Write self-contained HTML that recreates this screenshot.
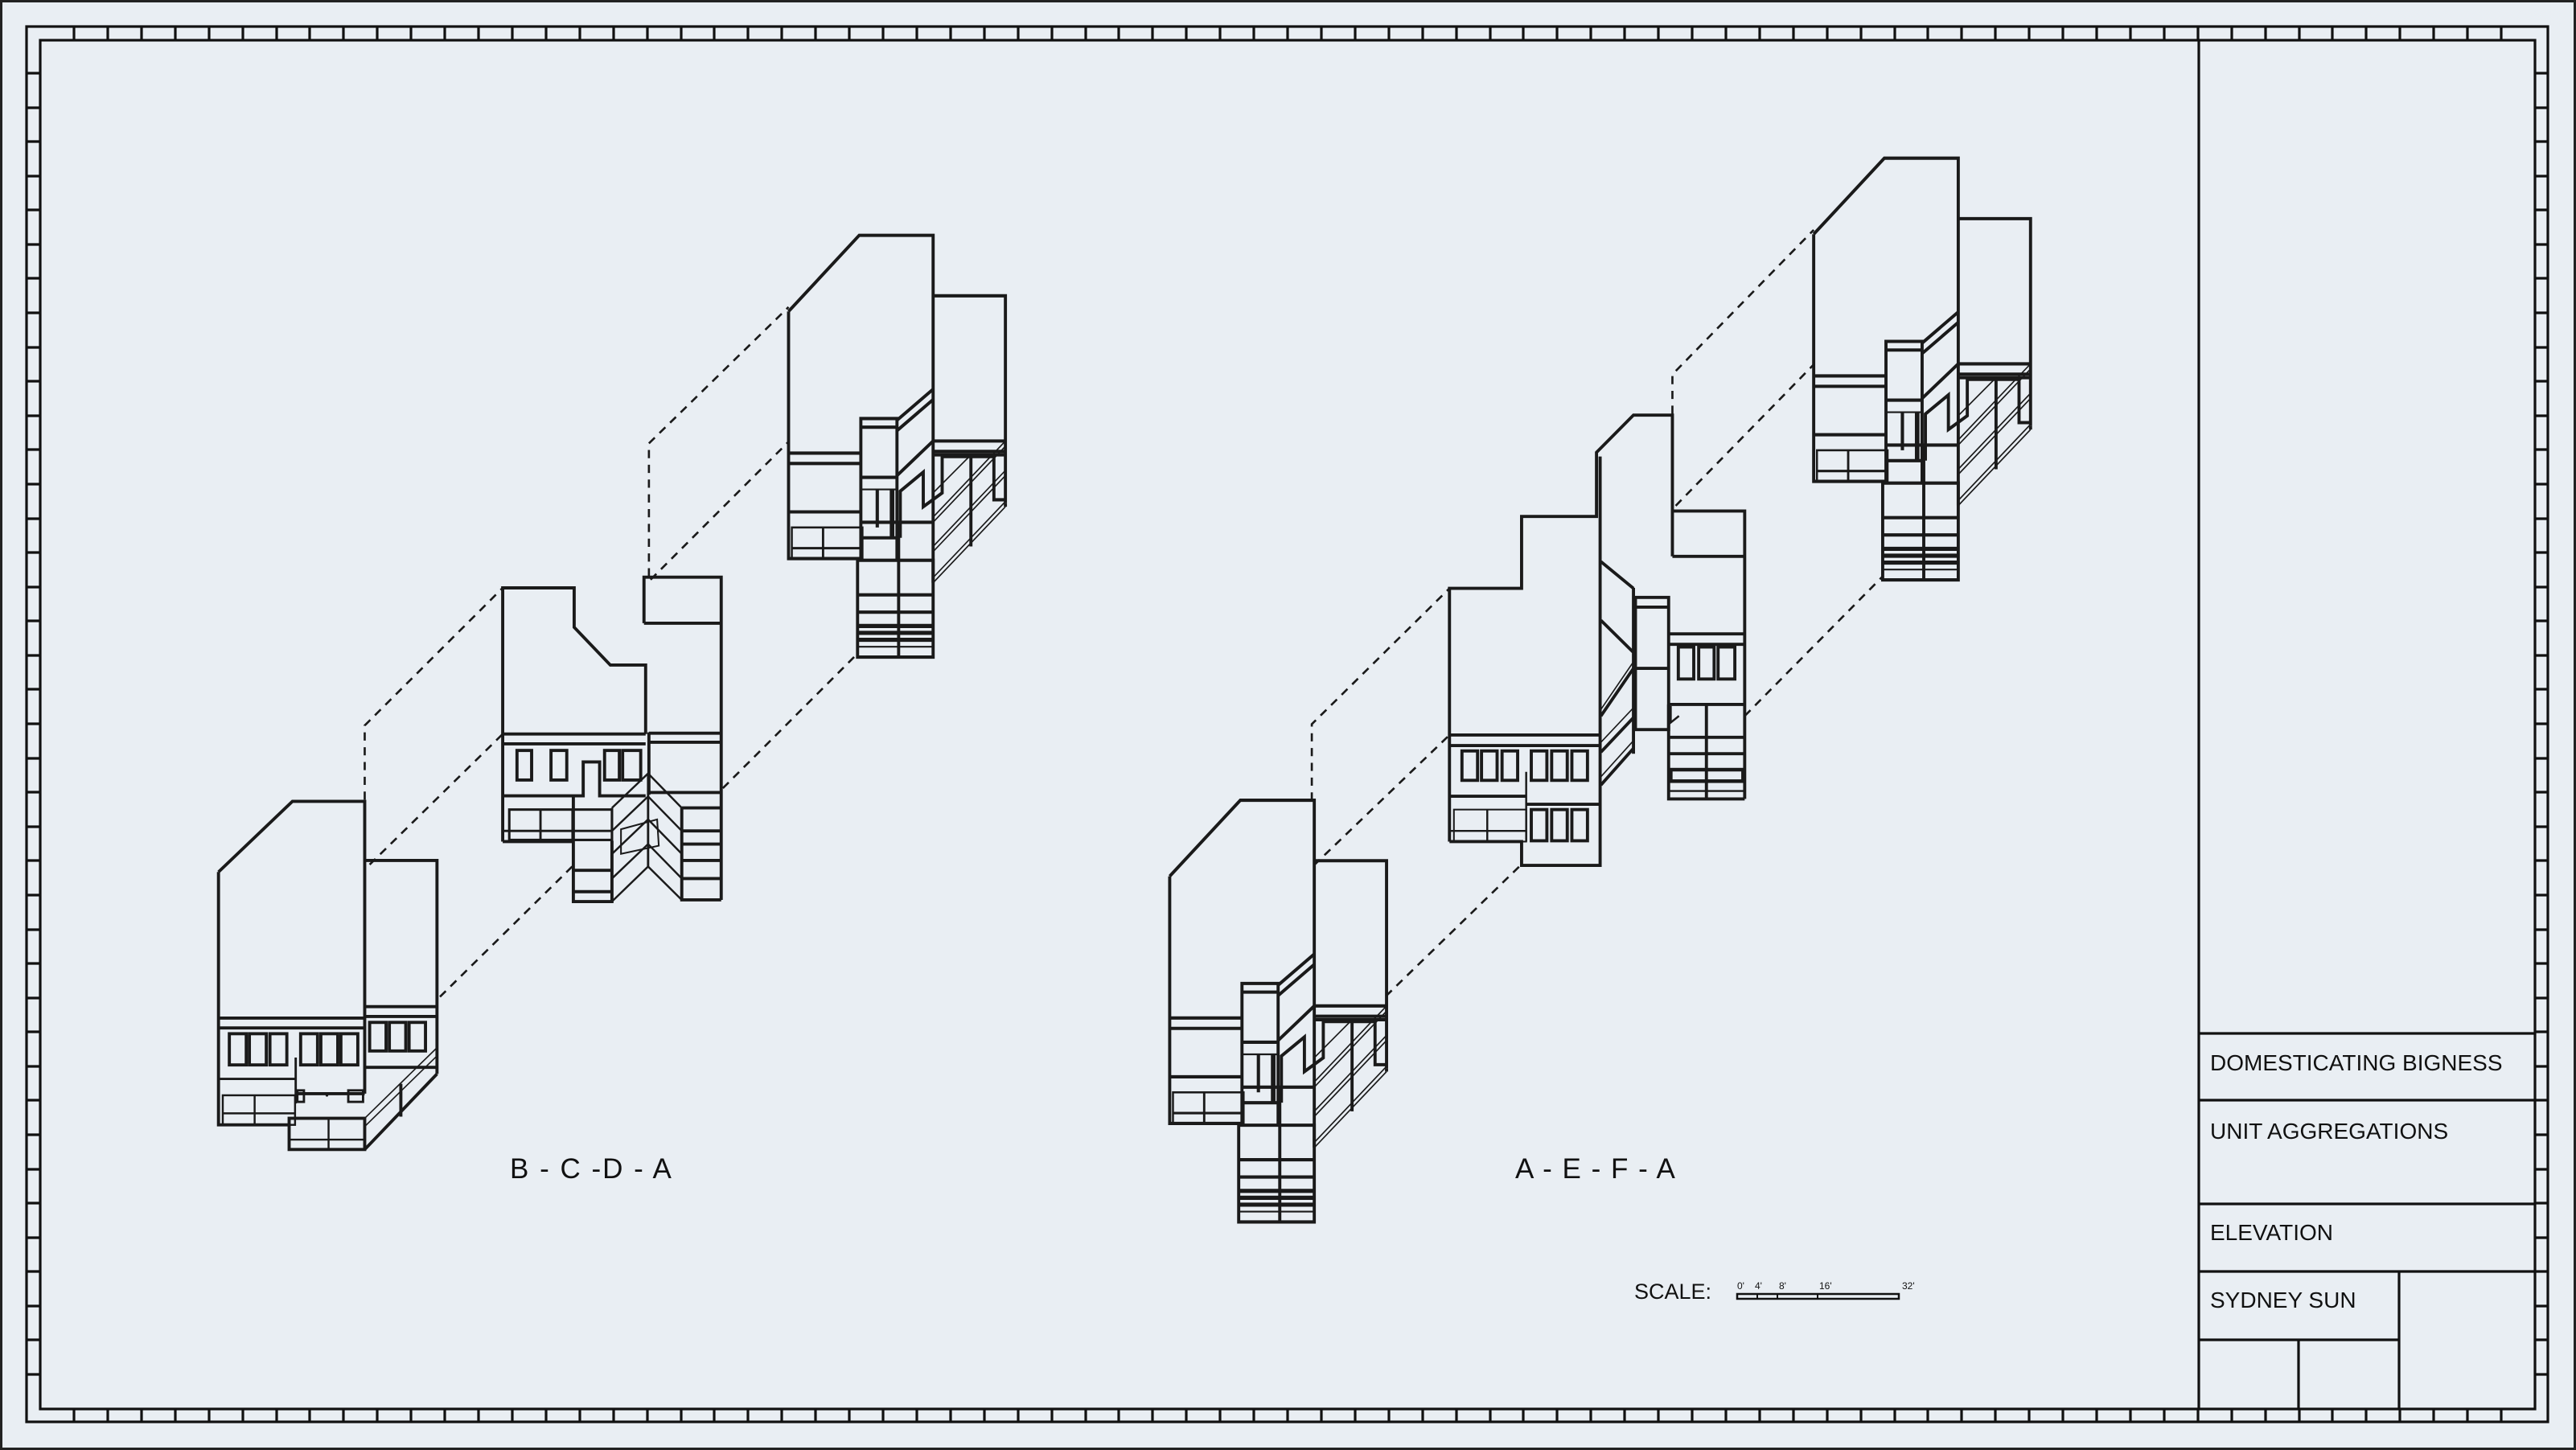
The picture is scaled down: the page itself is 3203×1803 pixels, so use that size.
<!DOCTYPE html>
<html><head><meta charset="utf-8"><style>
html,body{margin:0;padding:0;background:#e9eef3;}
svg{display:block;}
text{font-family:"Liberation Sans",sans-serif;fill:#111;}
</style></head><body>
<svg width="3203" height="1803" viewBox="0 0 3203 1803" xmlns="http://www.w3.org/2000/svg">
<rect x="1.5" y="1.5" width="3200" height="1800" fill="#e9eef3" stroke="#222" stroke-width="3"/>
<g fill="none" stroke="#111" stroke-width="3.2">
<rect x="33" y="33" width="3135" height="1735"/>
<rect x="50" y="50" width="3102" height="1702"/>
<line x1="2734" y1="50" x2="2734" y2="1752"/>
<line x1="2734" y1="1285" x2="3152" y2="1285"/>
<line x1="2734" y1="1368" x2="3152" y2="1368"/>
<line x1="2734" y1="1497" x2="3152" y2="1497"/>
<line x1="2734" y1="1581" x2="3152" y2="1581"/>
<line x1="2734" y1="1666" x2="2983" y2="1666"/>
<line x1="2983" y1="1581" x2="2983" y2="1752"/>
<line x1="2858" y1="1666" x2="2858" y2="1752"/>
<path d="
M92,33V50 M134,33V50 M176,33V50 M218,33V50 M260,33V50 M302,33V50 M344,33V50 M385,33V50 M427,33V50 M469,33V50 M511,33V50 M553,33V50 M595,33V50 M637,33V50 M679,33V50 M721,33V50 M763,33V50 M805,33V50 M847,33V50 M888,33V50 M930,33V50 M972,33V50 M1014,33V50 M1056,33V50 M1098,33V50 M1140,33V50 M1182,33V50 M1224,33V50 M1266,33V50 M1308,33V50 M1350,33V50 M1391,33V50 M1433,33V50 M1475,33V50 M1517,33V50 M1559,33V50 M1601,33V50 M1643,33V50 M1685,33V50 M1727,33V50 M1769,33V50 M1811,33V50 M1853,33V50 M1894,33V50 M1936,33V50 M1978,33V50 M2020,33V50 M2062,33V50 M2104,33V50 M2146,33V50 M2188,33V50 M2230,33V50 M2272,33V50 M2314,33V50 M2356,33V50 M2397,33V50 M2439,33V50 M2481,33V50 M2523,33V50 M2565,33V50 M2607,33V50 M2649,33V50 M2691,33V50 M2733,33V50 M2775,33V50 M2817,33V50 M2859,33V50 M2900,33V50 M2942,33V50 M2984,33V50 M3026,33V50 M3068,33V50 M3110,33V50
M92,1752V1768 M134,1752V1768 M176,1752V1768 M218,1752V1768 M260,1752V1768 M302,1752V1768 M344,1752V1768 M385,1752V1768 M427,1752V1768 M469,1752V1768 M511,1752V1768 M553,1752V1768 M595,1752V1768 M637,1752V1768 M679,1752V1768 M721,1752V1768 M763,1752V1768 M805,1752V1768 M847,1752V1768 M888,1752V1768 M930,1752V1768 M972,1752V1768 M1014,1752V1768 M1056,1752V1768 M1098,1752V1768 M1140,1752V1768 M1182,1752V1768 M1224,1752V1768 M1266,1752V1768 M1308,1752V1768 M1350,1752V1768 M1391,1752V1768 M1433,1752V1768 M1475,1752V1768 M1517,1752V1768 M1559,1752V1768 M1601,1752V1768 M1643,1752V1768 M1685,1752V1768 M1727,1752V1768 M1769,1752V1768 M1811,1752V1768 M1853,1752V1768 M1894,1752V1768 M1936,1752V1768 M1978,1752V1768 M2020,1752V1768 M2062,1752V1768 M2104,1752V1768 M2146,1752V1768 M2188,1752V1768 M2230,1752V1768 M2272,1752V1768 M2314,1752V1768 M2356,1752V1768 M2397,1752V1768 M2439,1752V1768 M2481,1752V1768 M2523,1752V1768 M2565,1752V1768 M2607,1752V1768 M2649,1752V1768 M2691,1752V1768 M2733,1752V1768 M2775,1752V1768 M2817,1752V1768 M2859,1752V1768 M2900,1752V1768 M2942,1752V1768 M2984,1752V1768 M3026,1752V1768 M3068,1752V1768 M3110,1752V1768
M33,91H50 M33,134H50 M33,176H50 M33,219H50 M33,261H50 M33,304H50 M33,346H50 M33,389H50 M33,432H50 M33,474H50 M33,517H50 M33,559H50 M33,602H50 M33,645H50 M33,687H50 M33,730H50 M33,772H50 M33,815H50 M33,857H50 M33,900H50 M33,943H50 M33,985H50 M33,1028H50 M33,1070H50 M33,1113H50 M33,1156H50 M33,1198H50 M33,1241H50 M33,1283H50 M33,1326H50 M33,1368H50 M33,1411H50 M33,1454H50 M33,1496H50 M33,1539H50 M33,1581H50 M33,1624H50 M33,1666H50 M33,1709H50
M3152,91H3168 M3152,134H3168 M3152,176H3168 M3152,219H3168 M3152,261H3168 M3152,304H3168 M3152,346H3168 M3152,389H3168 M3152,432H3168 M3152,474H3168 M3152,517H3168 M3152,559H3168 M3152,602H3168 M3152,645H3168 M3152,687H3168 M3152,730H3168 M3152,772H3168 M3152,815H3168 M3152,857H3168 M3152,900H3168 M3152,943H3168 M3152,985H3168 M3152,1028H3168 M3152,1070H3168 M3152,1113H3168 M3152,1156H3168 M3152,1198H3168 M3152,1241H3168 M3152,1283H3168 M3152,1326H3168 M3152,1368H3168 M3152,1411H3168 M3152,1454H3168 M3152,1496H3168 M3152,1539H3168 M3152,1581H3168 M3152,1624H3168 M3152,1666H3168 M3152,1709H3168"/>
</g>
<text x="2748" y="1331" font-size="28">DOMESTICATING BIGNESS</text>
<text x="2748" y="1416" font-size="28">UNIT AGGREGATIONS</text>
<text x="2748" y="1542" font-size="28">ELEVATION</text>
<text x="2748" y="1626" font-size="28">SYDNEY SUN</text>
<text x="634" y="1465" font-size="35" letter-spacing="2">B - C -D - A</text>
<text x="1884" y="1465" font-size="35" letter-spacing="1.5">A - E - F - A</text>
<text x="2032" y="1615" font-size="27">SCALE:</text>
<rect x="2160" y="1609" width="201" height="6" fill="none" stroke="#111" stroke-width="2.5"/>
<path d="M2185,1609V1615 M2210,1609V1615 M2260,1609V1615" stroke="#111" stroke-width="2"/>
<g font-size="12"><text x="2160" y="1603">0'</text><text x="2182" y="1603">4'</text><text x="2212" y="1603">8'</text><text x="2262" y="1603">16'</text><text x="2365" y="1603">32'</text></g>

<g transform="scale(2.0427,2.0419)" fill="none" stroke="#1a1a1a" stroke-width="1.9" stroke-linejoin="miter">
<defs>
<g id="A"><g transform="matrix(1,0,0,1.0526,0,-7.21)">
<path d="M480,187 L523,143 L568,143 L568,344"/>
<path d="M480,187 V330 H525"/>
<path d="M480,269 H524 M480,275 H524 M480,303 H524"/>
<rect x="482" y="312" width="43" height="18" stroke-width="1.2"/>
<path d="M482,324 H525 M501,312 V330" stroke-width="1.4"/>
<path d="M568,178 H612 V298 M568,262 H612 M568,268 H612"/>
<path d="M524,331 V249 H546 V331 M524,254 H546 M524,283 H546 M524,309 H568 M524,318 H546"/>
<path d="M524,290 H546" stroke-width="1"/>
<path d="M522,331 H568 V387 H522 Z M547,309 V387 M522,351 H568 M522,361 H568"/>
<path d="M522,369 H568 M522,373 H568 M522,377 H568" stroke-width="2.4"/>
<path d="M522,381 H568" stroke-width="1"/>
<path d="M534,290 V312" stroke-width="2"/>
<path d="M543,290 V318" stroke-width="2.8"/>
<path d="M546,250 L568,232 M546,256 L568,238 M546,282 L568,262"/>
<path d="M568,344 L612,300 M568,341 L612,297 M568,326 L612,282 M568,323 L612,279 M568,309 L612,265 M568,306 L612,262 M568,292 L591,270" stroke-width="0.8"/>
<path d="M568,270 H612 M591,270 V323 M612,298 V300"/>
<path d="M548,318 V291 L562,280 V300 L573.5,292 V271 H605 V296 H612"/>
</g></g>
</defs>
<use href="#A"/>
<use href="#A" transform="translate(232,344)"/>
<use href="#A" transform="translate(624,-47)"/>

<!-- Building B -->
<path d="M133,531 L178,488 L222,488 V666"/>
<path d="M133,531 V685 H176"/>
<path d="M222,524 H266 V654"/>
<path d="M133,620 H222 M133,626 H222 M222,613 H266 M222,619 H266 M222,650 H266"/>
<g>
<rect x="139.6" y="629.5" width="10.3" height="19"/><rect x="151.8" y="629.5" width="10.3" height="19"/><rect x="164.3" y="629.5" width="10.3" height="19"/>
<rect x="183" y="629.5" width="10.3" height="19"/><rect x="195.3" y="629.5" width="10.3" height="19"/><rect x="207.5" y="629.5" width="10.3" height="19"/>
<rect x="225" y="622.6" width="10" height="17.4"/><rect x="237" y="622.6" width="10" height="17.4"/><rect x="249" y="622.6" width="10" height="17.4"/>
</g>
<path d="M133,657 H180 M180,644 V672" stroke-width="1.4"/>
<rect x="135.6" y="667" width="44" height="18" stroke-width="1.2"/>
<path d="M135.6,678 H179.6 M155,667 V685" stroke-width="1.2"/>
<path d="M180,666 H222"/>
<rect x="181" y="664" width="4" height="7" stroke-width="1.4"/><rect x="212" y="664" width="9" height="7" stroke-width="1.4"/>
<rect x="176" y="681" width="46" height="19"/>
<path d="M200,681 V700 M176,694 H222" stroke-width="1.2"/>
<path d="M222,700 L266,654 M244,660 V680"/>
<path d="M222,681 L266,638 M222,686 L266,643" stroke-width="0.8"/>
<circle cx="199" cy="667" r="0.8" fill="#1a1a1a" stroke="none"/>

<!-- Building C -->
<path d="M306,512.5 V358 H349.5 V382 L371.5,405 H393 V447"/>
<path d="M392,379.5 V351.5 H439 V548 M392,379.5 H439"/>
<path d="M306,447 H393 M306,453 H393 M395,446.5 H439 M395,452 H439 M395,446 V484"/>
<rect x="314.7" y="457" width="8.9" height="18"/><rect x="335.4" y="457" width="9.6" height="18"/>
<rect x="368" y="457" width="9" height="18"/><rect x="379" y="457" width="11" height="18"/>
<path d="M306,484.6 H355 V464 H365 V484.6 H393"/>
<path d="M395,482.6 H439"/>
<rect x="310" y="493" width="62.5" height="18.5" stroke-width="1.5"/>
<path d="M329,493 V511.5 M348.5,493 V511.5 M306,506 H372.5" stroke-width="1.4"/>
<path d="M306,512.5 H349"/>
<path d="M349,484.6 V549 H372.5 V512 M349,530 H372.5 M349,543 H372.5"/>
<path d="M372.5,549 L394.5,527.7 L415,548 M372.5,492 L394.5,471 L415,492 M372.5,506 L394.5,485 L415,506 M372.5,520 L394.5,499 L415,520 M372.5,535 L394.5,514 L415,535" stroke-width="1.2"/>
<path d="M394.5,471 V527.7 M372.5,492 V549" stroke-width="1.4"/>
<path d="M415,492 H439 M415,492 V548 H439 M415,506 H439 M415,514 H439 M415,524 H439 M415,535 H439"/>
<path d="M378,505 L400,499 L401,515 L378,520 Z" stroke-width="1"/>

<!-- Building E -->
<path d="M882.3,512.5 V358.3 H926.2 V314.5 H971.8 V275.5 L994.3,252.8 H1018 V338.8"/>
<path d="M974,278 V527 H926.2 V512.5 H882.3"/>
<path d="M882.3,447.6 H974 M882.3,454 H974 M882.3,484.9 H929 M929,489.8 H974"/>
<g>
<rect x="889.9" y="457.3" width="9.5" height="17.9"/><rect x="901.8" y="457.3" width="9.5" height="17.9"/><rect x="914.3" y="457.3" width="9.5" height="17.9"/>
<rect x="932.1" y="457.3" width="9.5" height="17.9"/><rect x="944.5" y="457.3" width="9.5" height="17.9"/><rect x="956.8" y="457.3" width="9.5" height="17.9"/>
<rect x="932.1" y="493" width="9.5" height="19"/><rect x="944.5" y="493" width="9.5" height="19"/><rect x="956.8" y="493" width="9.5" height="19"/>
</g>
<rect x="885" y="493" width="44" height="19.5" stroke-width="1"/>
<path d="M905.3,493 V512.5 M882.3,506 H929 M929,470 V512.5" stroke-width="1.2"/>
<path d="M974.5,342 L994.3,358.3 M974.5,377.8 L994.3,397.3 M994.3,358 V459"/>
<path d="M974.5,436 L994.3,407 M974.5,478 L994.3,455.7 M974.5,458 L994.3,437"/>
<path d="M974.5,432 L994.3,403 M974.5,452 L994.3,431 M974.5,473 L994.3,451" stroke-width="0.8"/>
<!-- Building F -->
<path d="M1018,311.2 H1062 V486.5 M1018,338.8 H1062"/>
<rect x="995.5" y="363.8" width="20.2" height="80.5"/>
<path d="M995.5,369.7 H1015.7 M995.5,407 H1015.7 M1015.7,386 H1062 M1015.7,392.4 H1062"/>
<rect x="1021.6" y="394" width="9.4" height="19.5"/><rect x="1034" y="394" width="9.4" height="19.5"/><rect x="1045.8" y="394" width="10.2" height="19.5"/>
<path d="M1015.7,429 H1062 M1015.7,429 V486.5 H1062 M1038.7,429 V486.5 M1015.7,449 H1062 M1015.7,459 H1062"/>
<rect x="1017" y="468.7" width="44" height="7" stroke-width="2.2"/>
<path d="M1015.7,481.7 H1062" stroke-width="1.2"/>
<path d="M1017,430 V440 L1022,436" stroke-width="1.2"/>

<!-- Dashed connectors -->
<g stroke-dasharray="5 4" stroke-width="1.3">
<path d="M222,487 V441.8 L306,358"/>
<path d="M225,526.5 L306,447"/>
<path d="M267.8,607 L349.5,526.5"/>
<path d="M440,480 L522,398"/>
<path d="M395,351 V270 L480,187"/>
<path d="M396,353 L480,269"/>
<path d="M798.5,487.5 V441 L882.3,358.3"/>
<path d="M799.7,527 L882.3,447.6"/>
<path d="M843.6,606.6 L925.5,527"/>
<path d="M1062,436 L1146,351"/>
<path d="M1018,252 V228 L1104,140"/>
<path d="M1020,308 L1104,222"/>
</g>
</g>
</svg>
</body></html>
